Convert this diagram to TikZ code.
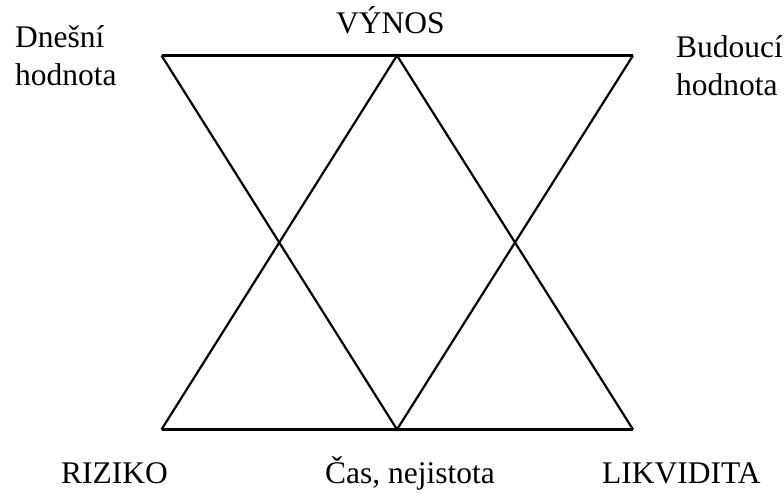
\documentclass[tikz,border=0pt]{standalone}
\usepackage{fontspec}
\setmainfont{Liberation Serif}
\begin{document}
\begin{tikzpicture}[x=1pt,y=-1pt,
  lbl/.style={anchor=base west,inner sep=0pt,font=\fontsize{31.5}{38}\selectfont},
  edge/.style={line width=2.2pt}]
\useasboundingbox (0,0) rectangle (784,493);
\coordinate (tl) at (161.5,55.5);
\coordinate (tm) at (397,55.5);
\coordinate (tr) at (633,55.5);
\coordinate (bl) at (161.5,429.5);
\coordinate (bm) at (397,429.5);
\coordinate (br) at (633,429.5);
\draw[edge] (tl) -- (tr);
\draw[edge] (bl) -- (br);
\draw[edge] (tl) -- (bm) -- (tr);
\draw[edge] (bl) -- (tm) -- (br);
\node[lbl] (dnes) at (15,47) {Dnešní};
\node[lbl] (dneshod) at (15,85) {hodnota};
\node[lbl] (vynos) at (336,33) {VÝNOS};
\node[lbl] (bud) at (676,57) {Budoucí};
\node[lbl] (budhod) at (676,95) {hodnota};
\node[lbl] (riziko) at (61,483) {RIZIKO};
\node[lbl] (cas) at (325,483) {Čas, nejistota};
\node[lbl] (likv) at (602,483) {LIKVIDITA};
\end{tikzpicture}
\end{document}
